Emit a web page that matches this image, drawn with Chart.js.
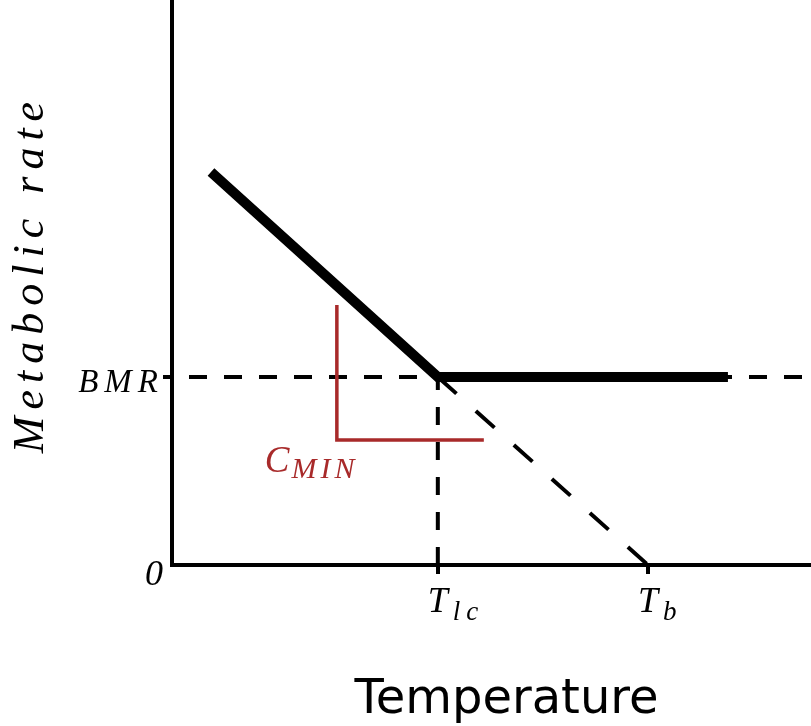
<!DOCTYPE html>
<html>
<head>
<meta charset="utf-8">
<script src="https://cdn.jsdelivr.net/npm/chart.js@4.4.0/dist/chart.umd.min.js"></script>
<style>
  html, body { margin: 0; padding: 0; background: #fff; }
</style>
</head>
<body>
<canvas id="chart" width="811" height="726"></canvas>
<script>
// key values (arbitrary units, axes run 0-100)
const T_LC = 41.6;
const T_B = 74.5;
const BMR = 33.4;

const xTicks = [T_LC, T_B];
const xTickMain = ['T', 'T'];
const xTickSub = ['lc', 'b'];
const yTicks = [0, BMR];
const yTickLabels = ['0', 'BMR'];

// metabolic rate: rising below T_lc, flat above it
const rateX = [6.1, T_LC, 87.0];
const rateY = [69.8, BMR, BMR];

// BMR reference line
const bmrX = [0, 100];
const bmrY = [BMR, BMR];

// drop line at T_lc
const dropX = [T_LC, T_LC];
const dropY = [0, BMR];

// cold slope extrapolated down to zero at T_b
const extrapX = [T_LC, T_B];
const extrapY = [BMR, 0];

// C_MIN slope marker
const cminX = [25.8, 25.8, 48.8];
const cminY = [46.2, 22.2, 22.2];

const RED = '#a82a2a';
const serifItalic = size => 'italic ' + size + 'px "Liberation Serif", "DejaVu Serif", serif';

function pts(xs, ys) {
  return xs.map((x, i) => ({ x: x, y: ys[i] }));
}

const dashed = {
  borderColor: '#000',
  borderWidth: 4,
  borderDash: [18, 17],
  pointRadius: 0,
  showLine: true
};

const labelPlugin = {
  id: 'labels',
  afterDraw(chart) {
    const ctx = chart.ctx;
    const x = chart.scales.x, y = chart.scales.y;
    const area = chart.chartArea;
    ctx.save();
    ctx.fillStyle = '#000';
    ctx.textBaseline = 'alphabetic';

    // y tick labels
    ctx.textAlign = 'right';
    ctx.font = serifItalic(36);
    ctx.letterSpacing = '0px';
    ctx.fillText(yTickLabels[0], area.left - 9, y.getPixelForValue(yTicks[0]) + 20);
    ctx.font = serifItalic(33);
    ctx.letterSpacing = '6px';
    ctx.fillText(yTickLabels[1], area.left - 8, y.getPixelForValue(yTicks[1]) + 15);

    // x tick labels with subscripts
    ctx.textAlign = 'left';
    xTicks.forEach((v, i) => {
      const px = x.getPixelForValue(v) - 10;
      ctx.letterSpacing = '0px';
      ctx.font = serifItalic(36);
      ctx.fillText(xTickMain[i], px, area.bottom + 47);
      const w = ctx.measureText(xTickMain[i]).width;
      ctx.font = serifItalic(27);
      ctx.letterSpacing = '6px';
      ctx.fillText(xTickSub[i], px + w + 5, area.bottom + 55);
    });

    // C_MIN label
    ctx.fillStyle = RED;
    const cx = x.getPixelForValue(cminX[1]) - 72;
    const cy = y.getPixelForValue(cminY[1]) + 32;
    ctx.font = serifItalic(37);
    ctx.letterSpacing = '2px';
    ctx.fillText('C', cx, cy);
    const cw = ctx.measureText('C').width;
    ctx.font = serifItalic(30);
    ctx.letterSpacing = '4px';
    ctx.fillText('MIN', cx + cw, cy + 6);

    // axis titles
    ctx.fillStyle = '#000';
    ctx.letterSpacing = '0px';
    ctx.font = '48px "DejaVu Sans"';
    ctx.textAlign = 'center';
    ctx.fillText('Temperature', (area.left + area.right) / 2 + 15, 713);

    ctx.save();
    ctx.translate(43, 274);
    ctx.rotate(-Math.PI / 2);
    ctx.font = serifItalic(44);
    ctx.letterSpacing = '7px';
    ctx.fillText('Metabolic rate', 0, 0);
    ctx.restore();

    ctx.restore();
  }
};

new Chart(document.getElementById('chart'), {
  type: 'scatter',
  data: {
    datasets: [
      {
        data: pts(rateX, rateY),
        borderColor: '#000',
        borderWidth: 10,
        borderJoinStyle: 'miter',
        pointRadius: 0,
        showLine: true
      },
      {
        data: pts(cminX, cminY),
        borderColor: RED,
        borderWidth: 3.5,
        borderJoinStyle: 'miter',
        pointRadius: 0,
        showLine: true
      },
      Object.assign({ data: pts(bmrX, bmrY), borderDashOffset: 18 }, dashed),
      Object.assign({ data: pts(dropX, dropY) }, dashed),
      Object.assign({}, dashed, { data: pts(extrapX, extrapY), borderDash: [25, 26] })
    ]
  },
  options: {
    responsive: false,
    animation: false,
    devicePixelRatio: 1,
    layout: { padding: { top: 2, right: 0, left: 0, bottom: 0 } },
    plugins: {
      legend: { display: false },
      tooltip: { enabled: false }
    },
    scales: {
      x: {
        type: 'linear',
        min: 0,
        max: 100,
        border: { color: '#000', width: 4 },
        grid: { drawOnChartArea: false, tickLength: 9, lineWidth: 4, color: '#000' },
        ticks: { callback: () => '', font: { size: 1 }, padding: 0 },
        afterBuildTicks: s => { s.ticks = xTicks.map(v => ({ value: v })); },
        afterFit: s => { s.height = 161; }
      },
      y: {
        type: 'linear',
        min: 0,
        max: 100,
        border: { color: '#000', width: 4 },
        grid: {
          drawOnChartArea: false,
          tickLength: 9,
          lineWidth: 4,
          color: c => (c.tick && c.tick.value === 0) ? 'rgba(0,0,0,0)' : '#000'
        },
        ticks: { callback: () => '', font: { size: 1 }, padding: 0 },
        afterBuildTicks: s => { s.ticks = yTicks.map(v => ({ value: v })); },
        afterFit: s => { s.width = 172; }
      }
    }
  },
  plugins: [labelPlugin]
});
</script>
</body>
</html>
